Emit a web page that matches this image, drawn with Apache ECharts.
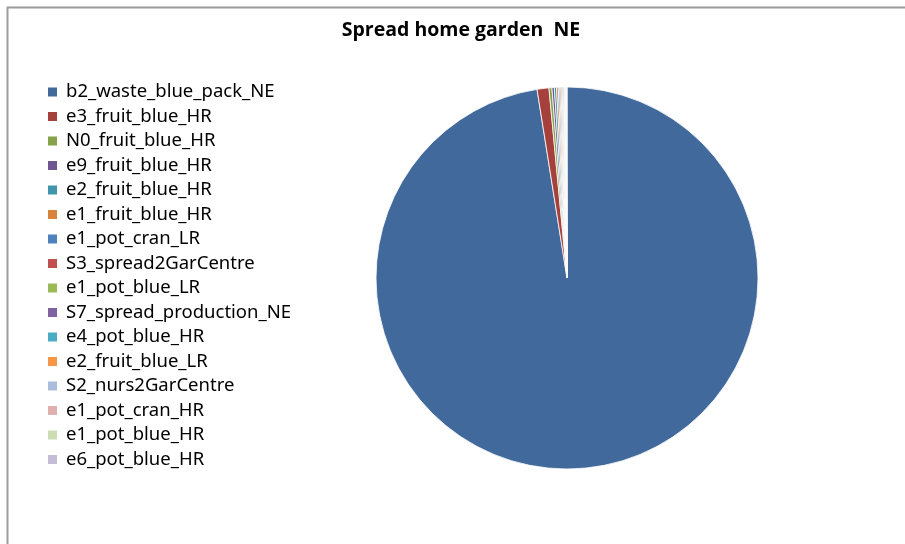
<!DOCTYPE html>
<html>
<head>
<meta charset="utf-8">
<script src="https://cdn.jsdelivr.net/npm/echarts@6/dist/echarts.min.js"></script>
<style>
html,body{margin:0;padding:0;background:#fff;}
#chart{width:905px;height:544px;}
</style>
</head>
<body>
<div id="chart"></div>
<script>
const titleText = "Spread home garden  NE";
const categories = [
  "b2_waste_blue_pack_NE","e3_fruit_blue_HR","N0_fruit_blue_HR","e9_fruit_blue_HR",
  "e2_fruit_blue_HR","e1_fruit_blue_HR","e1_pot_cran_LR","S3_spread2GarCentre",
  "e1_pot_blue_LR","S7_spread_production_NE","e4_pot_blue_HR","e2_fruit_blue_LR",
  "S2_nurs2GarCentre","e1_pot_cran_HR","e1_pot_blue_HR","e6_pot_blue_HR"
];
const values = [97.6, 1.0, 0.25, 0.2, 0.18, 0.15, 0.12, 0.1, 0.1, 0.08, 0.08, 0.07, 0.06, 0.05, 0.04, 0.03];
const colors = [
  "#41699C","#A6403D","#86A24B","#6E5690","#3F95AC","#D9823B","#4F81BD","#C0504D",
  "#9BBB59","#8064A2","#4BACC6","#F79646","#AABDDD","#E0B0AF","#CCDDB5","#C5BCD6"
];

const chart = echarts.init(document.getElementById('chart'));
chart.setOption({
  animation: false,
  color: colors,
  title: {
    text: titleText,
    left: 456,
    textAlign: 'center',
    top: 15,
    textStyle: {fontFamily: 'Open Sans', fontWeight: 'bold', fontSize: 19.5, color: '#000'}
  },
  graphic: [{
    type: 'rect',
    shape: {x: 7.5, y: 7.5, width: 1000, height: 1000},
    style: {fill: 'none', stroke: '#9c9c9c', lineWidth: 2}
  }],
  legend: {
    orient: 'vertical',
    left: 43,
    top: 77,
    padding: 5,
    itemWidth: 9,
    itemHeight: 9,
    itemGap: 4.5,
    icon: 'rect',
    itemStyle: {borderWidth: 0},
    textStyle: {fontFamily: 'Noto Sans', fontSize: 18.5, lineHeight: 20, color: '#000', padding: [0,0,0,4]},
    data: categories
  },
  series: [{
    type: 'pie',
    center: [567, 278],
    radius: 191,
    startAngle: 90,
    clockwise: true,
    label: {show: false},
    labelLine: {show: false},
    itemStyle: {borderColor: '#fff', borderWidth: 0.8},
    emphasis: {disabled: true},
    data: categories.map((n, i) => ({name: n, value: values[i]}))
  }]
});
</script>
</body>
</html>
